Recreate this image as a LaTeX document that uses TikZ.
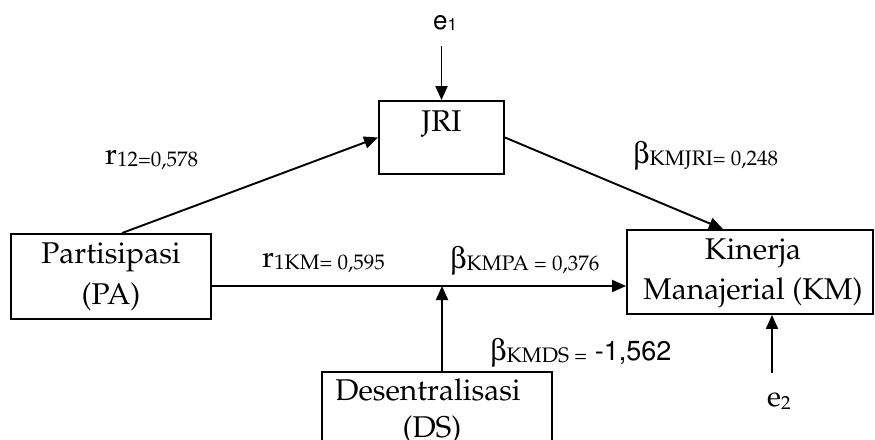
\documentclass[tikz,border=0pt]{standalone}
\usepackage[T1]{fontenc}
\usepackage{mathpazo}
\usepackage{pifont}
\usetikzlibrary{arrows.meta,calc}
\newcommand\mainfs{\fontsize{30}{40}\selectfont}
\newcommand\lblbig[1]{{\fontsize{30}{30}\selectfont #1}}
\newcommand\lblsub[1]{{\fontsize{21}{21}\selectfont\raisebox{-2pt}{#1}}}
\newcommand\sansf{\fontfamily{phv}\selectfont}
\newcommand\betasym{{\fontsize{30}{30}\selectfont\Pisymbol{psy}{98}}}
\tikzset{
  box/.style={draw, line width=1.9pt, inner sep=0pt},
  txt/.style={anchor=base, inner sep=0pt, font=\mainfs},
  lbl/.style={anchor=base west, inner sep=0pt},
  conn/.style={line width=1.9pt, -{Triangle[length=14pt,width=12pt]}}
}
\begin{document}
\begin{tikzpicture}[x=1pt,y=-1pt]
\useasboundingbox (0,0) rectangle (875,439);
\clip (0,0) rectangle (875,439);
% boxes
\node[box, minimum width=125pt, minimum height=73pt] (JRI) at (441.5,137.5) {};
\node[txt] at (441.5,131) {JRI};
\node[box, minimum width=200pt, minimum height=85pt] (PA) at (111,276.5) {};
\node[txt] at (111,263) {Partisipasi};
\node[txt] at (111,304) {(PA)};
\node[box, minimum width=246pt, minimum height=84pt] (KM) at (750,272) {};
\node[txt] at (753,259) {Kinerja};
\node[txt] at (753,299) {Manajerial (KM)};
\node[box, minimum width=230pt, minimum height=96pt] (DS) at (437,420) {};
\node[txt] at (428,400) {Desentralisasi};
\node[txt] at (432,437) {(DS)};
% error terms
\node[lbl] (e1) at (433,29) {\fontsize{26}{26}\sansf e\raisebox{-1pt}{\fontsize{17}{17}\sansf 1}};
\node[lbl] (e2) at (767,406) {{\fontsize{29}{29}\selectfont e}\raisebox{-3pt}{\fontsize{19}{19}\selectfont 2}};
% connectors
\draw[conn] ([xshift=11pt]PA.north) -- (JRI.west);
\draw[conn] (JRI.east) -- ([xshift=-27pt]KM.north);
\coordinate (pastart) at ([yshift=-9.5pt]PA.east);
\draw[conn] (pastart) -- (pastart -| KM.west);
\draw[conn] ([xshift=5pt]DS.north) -- ([xshift=5pt]DS.north |- pastart);
\draw[conn] ($(JRI.north)+(0,-54)$) -- (JRI.north);
\draw[conn] ($([xshift=22pt]KM.south)+(0,58)$) -- ([xshift=22pt]KM.south);
% labels
\node[lbl] at (105,164) {\lblbig{r}\lblsub{12=0,578}};
\node[lbl] at (633,163) {\betasym\lblsub{KMJRI= 0,248}};
\node[lbl] at (262,267) {\lblbig{r}\lblsub{1KM= 0,595}};
\node[lbl] at (450,268) {\betasym\lblsub{KMPA = 0,376}};
\node[lbl] at (490,360) {\betasym\lblsub{KMDS = } {\fontsize{27}{27}\sansf -1,562}};
\end{tikzpicture}
\end{document}
